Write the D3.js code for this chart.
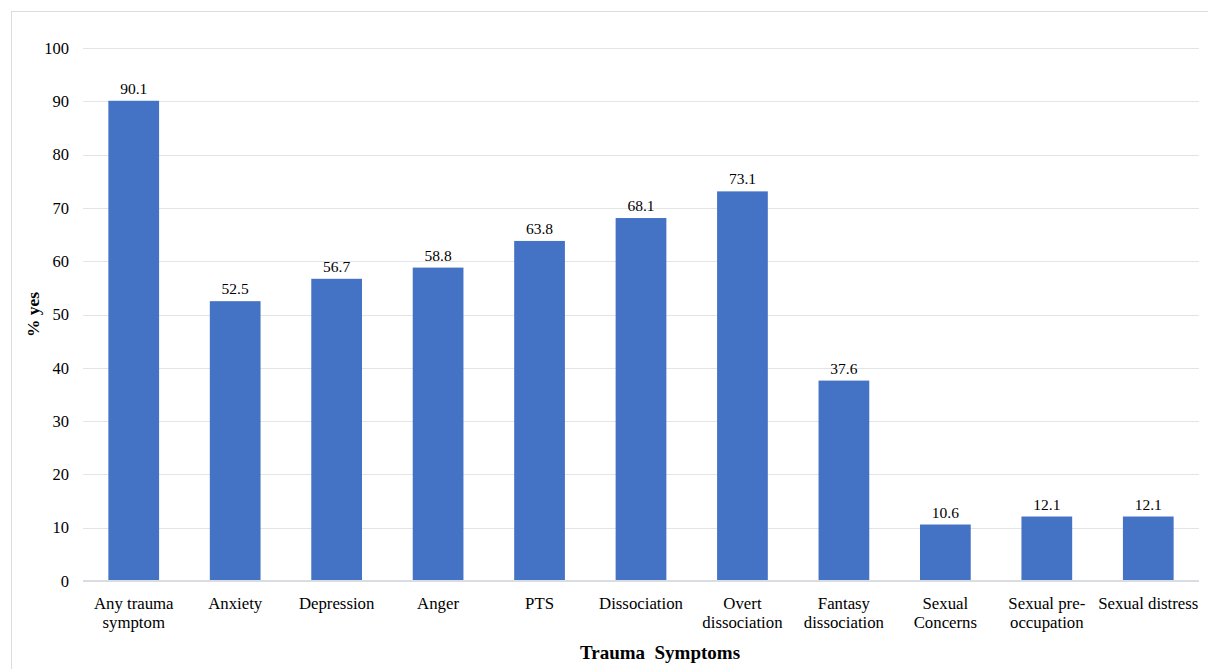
<!DOCTYPE html>
<html>
<head>
<meta charset="utf-8">
<script src="https://cdn.jsdelivr.net/npm/d3@7/dist/d3.min.js"></script>
<style>
  html, body { margin: 0; padding: 0; background: #fff; }
  svg { display: block; }
</style>
</head>
<body>
<svg id="chart" width="1208" height="669"></svg>
<script>
// Trauma symptom prevalence (% answering yes)
const categories = [
  ["Any trauma", "symptom"],
  ["Anxiety"],
  ["Depression"],
  ["Anger"],
  ["PTS"],
  ["Dissociation"],
  ["Overt", "dissociation"],
  ["Fantasy", "dissociation"],
  ["Sexual", "Concerns"],
  ["Sexual pre-", "occupation"],
  ["Sexual distress"]
];
const values = [90.1, 52.5, 56.7, 58.8, 63.8, 68.1, 73.1, 37.6, 10.6, 12.1, 12.1];
const yTicks = [0, 10, 20, 30, 40, 50, 60, 70, 80, 90, 100];
const yTitle = "% yes";
const xTitle = "Trauma  Symptoms";

const FONT = "'Liberation Serif', 'Times New Roman', Times, serif";
const svg = d3.select("#chart");
const W = 1208, H = 669;
const plot = { left: 83, right: 1199, top: 48, bottom: 581 };

// outer frame of the chart area
svg.append("rect")
  .attr("x", 11.5).attr("y", 11.5)
  .attr("width", W).attr("height", H)
  .attr("fill", "none").attr("stroke", "#d9dde3").attr("stroke-width", 1);

const keys = categories.map((c, i) => i);
const x = d3.scaleBand().domain(keys).range([plot.left, plot.right]).paddingInner(0.5).paddingOuter(0.25);
const y = d3.scaleLinear().domain([0, 100]).range([plot.bottom, plot.top]);

// horizontal gridlines
svg.append("g")
  .selectAll("line")
  .data(yTicks.filter(t => t > 0))
  .join("line")
  .attr("x1", plot.left).attr("x2", plot.right)
  .attr("y1", d => Math.round(y(d)) + 0.5).attr("y2", d => Math.round(y(d)) + 0.5)
  .attr("stroke", "#e1e4e8").attr("stroke-width", 1);

// y axis labels
const yAxis = d3.axisLeft(y).tickValues(yTicks).tickSize(0).tickPadding(14);
const gy = svg.append("g").attr("transform", `translate(${plot.left},0)`).call(yAxis);
gy.attr("font-family", null).attr("font-size", null);
gy.select(".domain").remove();
gy.selectAll("text")
  .style("font-family", FONT)
  .style("font-size", "16.5px").attr("fill", "#000");

// bars
svg.append("g")
  .selectAll("rect")
  .data(values)
  .join("rect")
  .attr("x", (d, i) => x(i))
  .attr("y", d => y(d))
  .attr("width", x.bandwidth())
  .attr("height", d => y(0) - y(d))
  .attr("fill", "#4472c4");

// value labels
svg.append("g")
  .selectAll("text")
  .data(values)
  .join("text")
  .attr("x", (d, i) => x(i) + x.bandwidth() / 2)
  .attr("y", d => y(d) - 7)
  .attr("text-anchor", "middle")
  .style("font-family", FONT)
  .style("font-size", "15.5px")
  .text(d => d.toFixed(1));

// baseline axis
const xAxis = d3.axisBottom(x).tickSize(0).tickFormat(() => "");
const gx = svg.append("g").attr("transform", `translate(0,${plot.bottom})`).call(xAxis);
gx.select(".domain").attr("stroke", "#d9dce1").attr("stroke-width", 2).attr("d", `M${plot.left},0H${plot.right}`);

// category labels (wrapped)
const catG = svg.append("g");
categories.forEach((lines, i) => {
  const cx = x(i) + x.bandwidth() / 2;
  const t = catG.append("text")
    .attr("x", cx)
    .attr("y", 609)
    .attr("text-anchor", "middle")
    .style("font-family", FONT)
    .style("font-size", "16.8px");
  lines.forEach((ln, j) => {
    t.append("tspan").attr("x", cx).attr("dy", j === 0 ? 0 : 19).text(ln);
  });
});

// axis titles
svg.append("text")
  .attr("transform", `translate(39,${(plot.top + plot.bottom) / 2}) rotate(-90)`)
  .attr("text-anchor", "middle")
  .style("font-family", FONT)
  .style("font-size", "17.5px").style("font-weight", "bold")
  .text(yTitle);

svg.append("text")
  .attr("x", (plot.left + plot.right) / 2 + 19)
  .attr("y", 659)
  .attr("text-anchor", "middle")
  .style("font-family", FONT)
  .style("font-size", "19px").style("font-weight", "bold")
  .style("white-space", "pre")
  .text(xTitle);
</script>
</body>
</html>
